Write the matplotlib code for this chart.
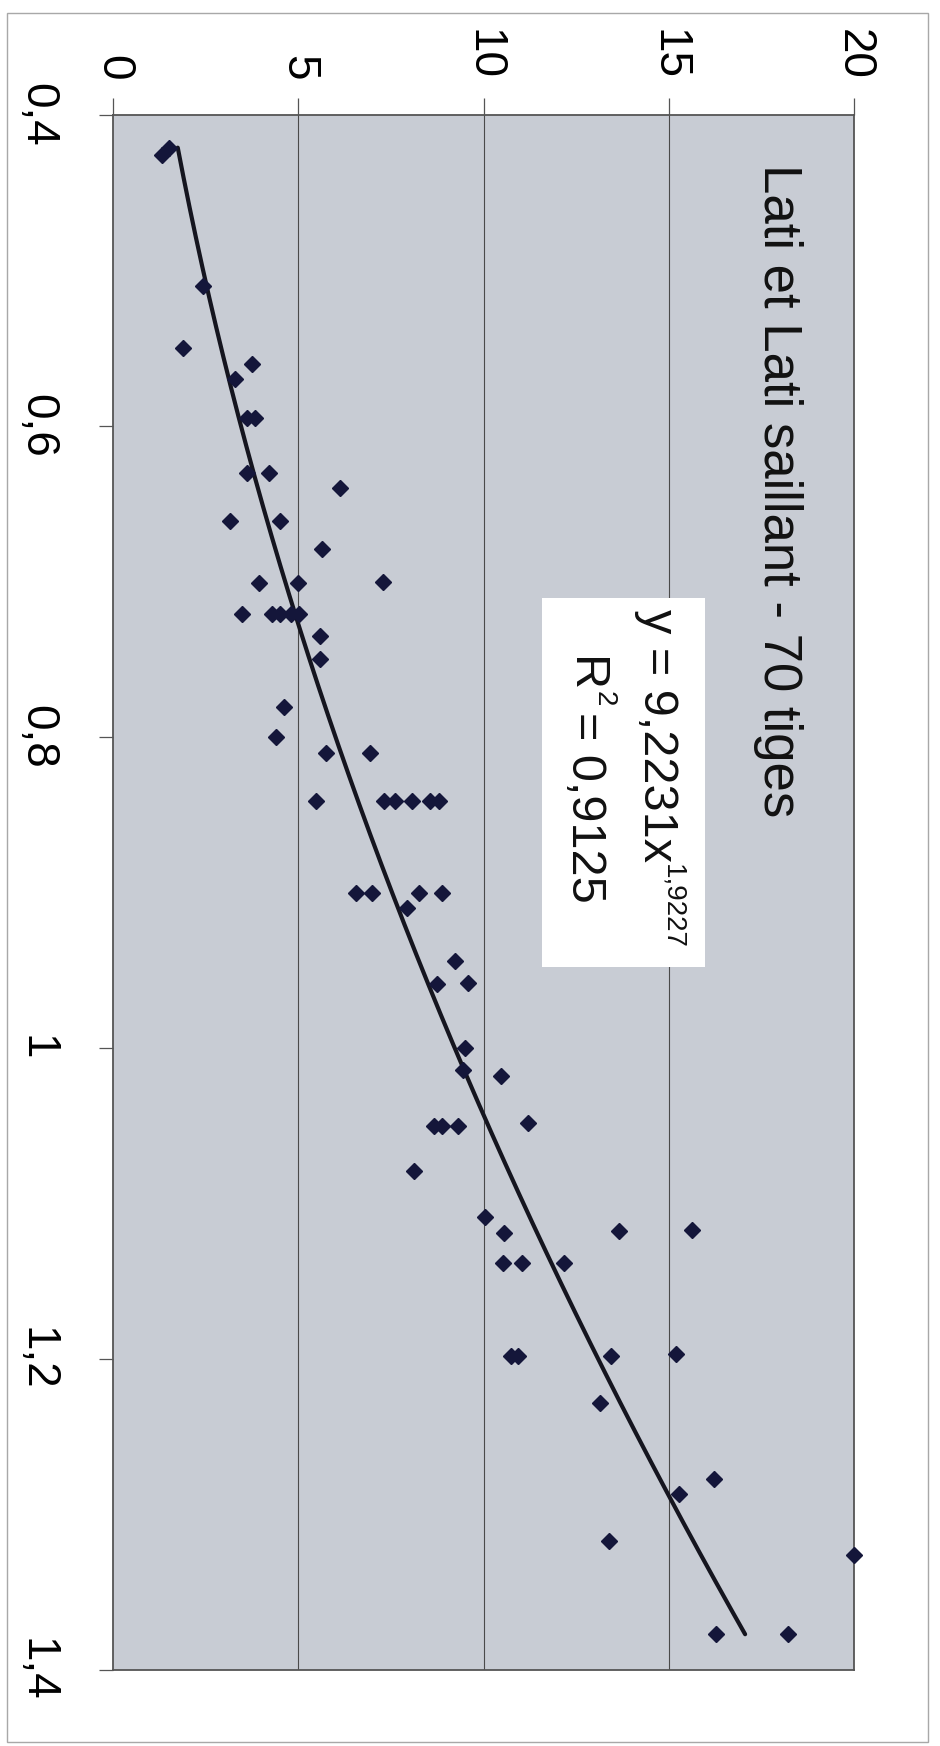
import numpy as np
import matplotlib
matplotlib.use("Agg")
import matplotlib.pyplot as plt
from matplotlib.patches import Rectangle

plt.rcParams['font.family'] = ['Liberation Sans', 'DejaVu Sans']

x_vals = [0.426, 0.421, 0.510, 0.550, 0.560, 0.570, 0.595, 0.595, 0.630, 0.630,
          0.640, 0.661, 0.661, 0.679, 0.701, 0.701, 0.700, 0.721, 0.721, 0.721,
          0.721, 0.721, 0.735, 0.750, 0.781, 0.800, 0.810, 0.810, 0.841, 0.841,
          0.841, 0.841, 0.841, 0.841, 0.900, 0.900, 0.900, 0.900, 0.910, 0.944,
          0.959, 0.958, 1.000, 1.014, 1.018, 1.050, 1.050, 1.050, 1.048, 1.079,
          1.109, 1.119, 1.118, 1.117, 1.138, 1.138, 1.138, 1.198, 1.198, 1.198,
          1.197, 1.228, 1.277, 1.287, 1.317, 1.326, 1.377, 1.377]
y_vals = [1.33, 1.51, 2.43, 1.88, 3.76, 3.30, 3.62, 3.82, 3.62, 4.22,
          6.12, 3.16, 4.52, 5.65, 3.93, 4.98, 7.28, 3.47, 4.29, 4.52,
          4.80, 5.03, 5.58, 5.58, 4.61, 4.39, 5.76, 6.94, 5.47, 7.32,
          7.60, 8.06, 8.56, 8.81, 6.56, 6.99, 8.26, 8.87, 7.94, 9.24,
          8.74, 9.57, 9.50, 9.46, 10.46, 8.66, 8.89, 9.30, 11.19, 8.13,
          10.05, 10.55, 13.67, 15.63, 10.52, 11.04, 12.17, 10.75, 10.93, 13.43,
          15.19, 13.15, 16.23, 15.29, 13.38, 20.0, 16.27, 18.22]

# power trendline y = a * x^b
coef_a = 9.2231
coef_b = 1.9227

x_ticks = [0.4, 0.6, 0.8, 1.0, 1.2, 1.4]
x_labels = ['0,4', '0,6', '0,8', '1', '1,2', '1,4']
y_ticks = [0, 5, 10, 15, 20]
y_labels = ['0', '5', '10', '15', '20']

title = "Lati et Lati saillant - 70 tiges"
eq_main = "y = 9,2231x"
eq_exp = "1,9227"
r2_main = "R"
r2_exp = "2"
r2_rest = "= 0,9125"

W, H = 940, 1746
fig = plt.figure(figsize=(W / 100, H / 100), dpi=100)
fig.patch.set_facecolor('white')


def fx(X):
    return X / W


def fy(Y):
    return 1 - Y / H


# chart outer frame
fig.patches.append(Rectangle((fx(7), fy(1742)), fx(928) - fx(7), fy(13) - fy(1742),
                             transform=fig.transFigure, fill=False,
                             edgecolor='#a8a8a8', linewidth=1.0))

left, right, top, bottom = 113, 854, 115, 1670
ax = fig.add_axes([fx(left), fy(bottom), fx(right) - fx(left), fy(top) - fy(bottom)])
ax.set_facecolor('#c8ccd4')

ax.set_xlim(0, 20)
ax.set_ylim(1.4, 0.4)

for v in y_ticks[1:]:
    ax.axvline(v, color='#4a4a4a', linewidth=0.8, zorder=1)

# trendline over the data range
xs = np.linspace(min(x_vals), max(x_vals), 200)
ax.plot(coef_a * xs ** coef_b, xs, color='#15151f', linewidth=3.0, zorder=2,
        solid_capstyle='round')
ax.plot(y_vals, x_vals, linestyle='none', marker='D', markersize=8,
        color='#14163a', zorder=3, clip_on=False)

ax.xaxis.tick_top()
ax.set_xticks(y_ticks)
ax.set_xticklabels(y_labels)
ax.set_yticks(x_ticks)
ax.set_yticklabels(x_labels)

ax.tick_params(axis='x', direction='out', length=12, width=0.9, color='#555555',
               pad=13, labelsize=33, labelrotation=-90)
ax.tick_params(axis='y', direction='out', length=10, width=0.9, color='#555555',
               pad=29, labelsize=33, labelrotation=-90)
for lbl in ax.get_yticklabels():
    lbl.set_va('center')
for lbl in ax.get_xticklabels():
    lbl.set_ha('center')

for s in ax.spines.values():
    s.set_color('#555555')
    s.set_linewidth(1.3)

# title inside the plot area, rotated like the scan
fig.text(fx(778), fy(164), title, rotation=-90, fontsize=38,
         ha='center', va='top', color='#111111')

# equation box
ax.add_patch(Rectangle((fx(542), fy(967)), fx(705) - fx(542), fy(598) - fy(967),
                       transform=fig.transFigure, facecolor='white',
                       edgecolor='none', zorder=4))
fig.text(fx(656), fy(609), eq_main, rotation=-90, fontsize=35,
         ha='center', va='top', color='#111111', zorder=5)
fig.text(fx(672), fy(864), eq_exp, rotation=-90, fontsize=20,
         ha='center', va='top', color='#111111', zorder=5)
fig.text(fx(585), fy(657), r2_main, rotation=-90, fontsize=35,
         ha='center', va='top', color='#111111', zorder=5)
fig.text(fx(604), fy(691), r2_exp, rotation=-90, fontsize=20,
         ha='center', va='top', color='#111111', zorder=5)
fig.text(fx(585), fy(712), r2_rest, rotation=-90, fontsize=35,
         ha='center', va='top', color='#111111', zorder=5)

fig.savefig('out.png', dpi=100, facecolor=fig.get_facecolor())
